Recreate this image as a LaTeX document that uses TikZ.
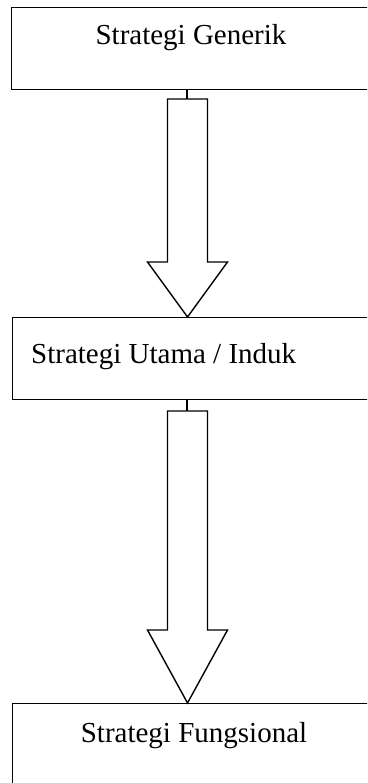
\documentclass[tikz,border=0pt]{standalone}
\usepackage{fontspec}
\setmainfont{Liberation Serif}
\usetikzlibrary{calc}
\tikzset{
  level/.style={draw, line width=1.4pt, rectangle, inner sep=0pt, anchor=north west},
  caption/.style={font=\fontsize{29}{33}\selectfont, inner sep=0pt, anchor=base},
  bigarrow/.style={draw, line width=1.4pt, line join=miter, fill=white},
  stem/.style={draw, line width=1.4pt}
}
\begin{document}
\begin{tikzpicture}[x=1pt, y=-1pt]
  \useasboundingbox (0,0) rectangle (367,783);
  \clip (0,0) rectangle (367,783);
  \fill[white] (0,0) rectangle (367,783);

  % three strategy levels (right edges run off the page)
  \node[level, minimum width=380pt, minimum height=82pt] (gen) at (11,7) {};
  \node[level, minimum width=380pt, minimum height=82pt] (utama) at (12,317) {};
  \node[level, minimum width=380pt, minimum height=100pt] (fungsi) at (12,703) {};

  \node[caption] (tgen) at (191,45) {Strategi Generik};
  \node[caption, anchor=base west] (tutama) at (31,363) {Strategi Utama / Induk};
  \node[caption] (tfungsi) at (194,742) {Strategi Fungsional};

  % block arrow from Generik to Utama
  \coordinate (s1) at ($(gen.south west)+(176,0)$);
  \coordinate (t1) at ($(utama.north west)+(175.5,0)$);
  \draw[stem] (s1) -- ++(0,10);
  \draw[bigarrow] (167.5,99) -- (207.5,99) -- (207.5,262) -- (227.5,262)
     -- (t1) -- (147.5,262) -- (167.5,262) -- cycle;

  % block arrow from Utama to Fungsional
  \coordinate (s2) at ($(utama.south west)+(175,0)$);
  \coordinate (t2) at ($(fungsi.north west)+(175.5,0)$);
  \draw[stem] (s2) -- ++(0,12);
  \draw[bigarrow] (167.5,411) -- (207.5,411) -- (207.5,630) -- (227.5,630)
     -- (t2) -- (147.5,630) -- (167.5,630) -- cycle;
\end{tikzpicture}
\end{document}
